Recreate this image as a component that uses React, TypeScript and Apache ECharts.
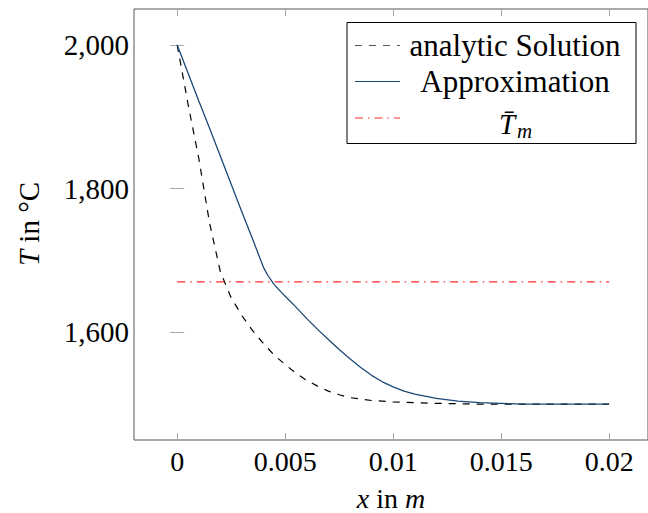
import React, { useEffect, useRef } from "react";
import * as echarts from "echarts";

// analytic solution
const xAnalytic = [0, 0.0005, 0.001, 0.0015, 0.002, 0.0025, 0.003, 0.0035, 0.004, 0.0045, 0.005, 0.0055, 0.006, 0.0065, 0.007, 0.0075, 0.008, 0.009, 0.01, 0.011, 0.012, 0.014, 0.016, 0.018, 0.02];
const tAnalytic = [2000, 1918, 1842, 1752, 1684, 1648, 1623, 1602, 1584, 1568, 1555, 1543, 1533, 1525, 1518, 1513, 1509, 1505, 1503, 1502, 1501, 1500, 1500, 1500, 1500];

// approximation
const xApprox = [0, 0.0005, 0.001, 0.0015, 0.002, 0.0025, 0.003, 0.0035, 0.004, 0.0042, 0.0045, 0.005, 0.0055, 0.006, 0.0065, 0.007, 0.0075, 0.008, 0.0085, 0.009, 0.0095, 0.01, 0.0105, 0.011, 0.012, 0.013, 0.014, 0.015, 0.016, 0.018, 0.02];
const tApprox = [2000, 1961, 1922, 1884, 1845, 1806, 1767, 1729, 1690, 1679, 1666, 1650, 1635, 1619, 1604, 1590, 1576, 1563, 1551, 1540, 1531, 1524, 1518, 1514, 1508, 1504, 1502, 1501, 1500, 1500, 1500];

// mean temperature
const xMean = [0, 0.02];
const tMean = [1670, 1670];

const xTicks = [0, 0.005, 0.01, 0.015, 0.02];
const yTicks = [1600, 1800, 2000];

const legendLabels = ["analytic Solution", "Approximation"];

const FONT = "Liberation Serif";

export default function App() {
  const ref = useRef<HTMLDivElement>(null);
  useEffect(() => {
    if (!ref.current) return;
    const chart = echarts.init(ref.current, undefined, { renderer: "svg" });
    const tickStyle = { color: "#a8a8a8", width: 1 };
    const pairs = (xs: number[], ys: number[]) => xs.map((x, i) => [x, ys[i]]);
    const legendY = [45.5, 81.5, 118];
    chart.setOption({
      animation: false,
      grid: { left: 134, top: 9, right: 0, bottom: 73, show: true, borderColor: "#555", borderWidth: 1 },
      xAxis: [
        {
          type: "value", min: -0.002, max: 0.0218, position: "bottom",
          axisLine: { show: false }, splitLine: { show: false },
          axisTick: { show: true, inside: true, length: 7, lineStyle: tickStyle, customValues: xTicks },
          axisLabel: { show: true, customValues: xTicks, margin: 7, color: "#000", fontFamily: FONT, fontSize: 28, formatter: (v: number) => String(v) },
        },
        {
          type: "value", min: -0.002, max: 0.0218, position: "top",
          axisLine: { show: false }, splitLine: { show: false },
          axisTick: { show: true, inside: true, length: 7, lineStyle: tickStyle, customValues: xTicks },
          axisLabel: { show: false, customValues: xTicks },
        },
      ],
      yAxis: [
        {
          type: "value", min: 1450, max: 2050, position: "left",
          axisLine: { show: false }, splitLine: { show: false },
          axisTick: { show: true, inside: true, length: 7, lineStyle: tickStyle, customValues: yTicks },
          axisLabel: { show: true, customValues: yTicks, margin: 5, color: "#000", fontFamily: FONT, fontSize: 29, formatter: (v: number) => v.toLocaleString("en-US") },
        },
        {
          type: "value", min: 1450, max: 2050, position: "right",
          axisLine: { show: false }, splitLine: { show: false },
          axisTick: { show: true, inside: true, length: 7, lineStyle: tickStyle, customValues: yTicks },
          axisLabel: { show: false, customValues: yTicks },
        },
      ],
      series: [
        {
          type: "line", name: "analytic Solution", showSymbol: false, data: pairs(xAnalytic, tAnalytic),
          lineStyle: { color: "#000", width: 1.2, type: [7, 7] },
        },
        {
          type: "line", name: "Approximation", showSymbol: false, data: pairs(xApprox, tApprox),
          lineStyle: { color: "#1a4877", width: 1.3 },
        },
        {
          type: "line", name: "Tm", showSymbol: false, data: pairs(xMean, tMean),
          lineStyle: { color: "#ff2a2a", width: 1.2, type: [8, 5, 1.5, 5] },
        },
      ],
      graphic: [
        { type: "rect", shape: { x: 347, y: 22.5, width: 289, height: 121 }, style: { fill: "#fff", stroke: "#000", lineWidth: 1 }, z: 100 },
        { type: "line", shape: { x1: 355, y1: legendY[0], x2: 400, y2: legendY[0] }, style: { stroke: "#555", lineWidth: 1.2, lineDash: [7, 7] }, z: 101 },
        { type: "line", shape: { x1: 355, y1: legendY[1], x2: 400, y2: legendY[1] }, style: { stroke: "#1a4877", lineWidth: 1.2 }, z: 101 },
        { type: "line", shape: { x1: 355, y1: legendY[2], x2: 400, y2: legendY[2] }, style: { stroke: "#ff2a2a", lineWidth: 1.2, lineDash: [8, 5, 1.5, 5] }, z: 101 },
        { type: "text", x: 515, y: legendY[0], style: { text: legendLabels[0], fontFamily: FONT, fontSize: 31, fill: "#000", align: "center", verticalAlign: "middle" }, z: 101 },
        { type: "text", x: 515, y: legendY[1], style: { text: legendLabels[1], fontFamily: FONT, fontSize: 31, fill: "#000", align: "center", verticalAlign: "middle" }, z: 101 },
        { type: "text", x: 507, y: 124, style: { text: "T\u0304", fontFamily: FONT, fontStyle: "italic", fontSize: 29, fill: "#000", align: "center", verticalAlign: "middle" }, z: 101 },
        { type: "text", x: 517, y: 131, style: { text: "m", fontFamily: FONT, fontStyle: "italic", fontSize: 21, fill: "#000", align: "left", verticalAlign: "middle" }, z: 101 },
        {
          type: "text", x: 391, y: 498,
          style: { text: "{i|x} in {i|m}", fontFamily: FONT, fontSize: 28, fill: "#000", align: "center", verticalAlign: "middle", rich: { i: { fontStyle: "italic", fontFamily: FONT, fontSize: 28 } } },
        },
        {
          type: "text", x: 29, y: 224, rotation: Math.PI / 2,
          style: { text: "{i|T} in °C", fontFamily: FONT, fontSize: 29, fill: "#000", align: "center", verticalAlign: "middle", rich: { i: { fontStyle: "italic", fontFamily: FONT, fontSize: 29 } } },
        },
      ],
    });
    return () => chart.dispose();
  }, []);
  return <div ref={ref} style={{ position: "absolute", left: 0, top: 0, width: 648, height: 513 }} />;
}
